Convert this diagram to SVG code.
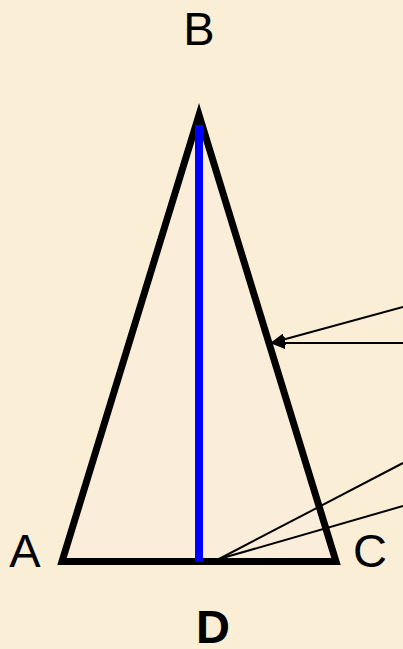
<svg xmlns="http://www.w3.org/2000/svg" width="403" height="649" viewBox="0 0 403 649">
<style>
.lbl{font-family:"Liberation Sans",Arial,sans-serif;font-size:47px;fill:#000;text-anchor:middle}
.thin{stroke:#000;stroke-width:2;fill:none}
</style>
<defs>
<marker id="ah2" viewBox="0 0 15 12" refX="14" refY="6" markerWidth="15" markerHeight="12" markerUnits="userSpaceOnUse" orient="auto">
<path d="M0,0 L15,6 L0,12 z" fill="#000"/>
</marker>
</defs>
<rect width="403" height="649" fill="#FBEED7"/>
<g id="triangle">
<polygon points="199,115 62,561.5 336,561.5" fill="#FAEEDA" stroke="#000" stroke-width="7" stroke-linejoin="miter"/>
</g>
<g id="altitude">
<line x1="199" y1="125" x2="199" y2="562" stroke="#0000FF" stroke-width="8"/>
</g>
<g id="connectors">
<line class="thin" x1="403" y1="307" x2="271" y2="343" marker-end="url(#ah2)"/>
<line class="thin" x1="403" y1="343" x2="271" y2="343" marker-end="url(#ah2)"/>
<line class="thin" x1="403" y1="463" x2="219" y2="559"/>
<line class="thin" x1="403" y1="506" x2="219" y2="559"/>
</g>
<g id="label-B"><text class="lbl" x="199" y="45">B</text></g>
<g id="label-A"><text class="lbl" x="25" y="567">A</text></g>
<g id="label-C"><text class="lbl" x="370" y="567">C</text></g>
<g id="label-D"><text class="lbl" x="213" y="643" font-weight="bold">D</text></g>
</svg>
